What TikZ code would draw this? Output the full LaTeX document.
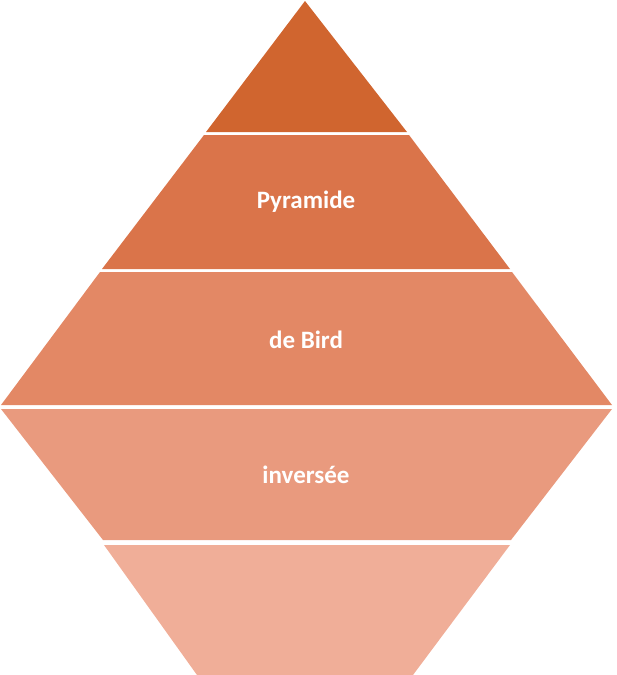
\documentclass[tikz,border=0pt]{standalone}
\usepackage{fontspec}
\setmainfont{Carlito}
\definecolor{c1}{HTML}{D0652F}
\definecolor{c2}{HTML}{DA744A}
\definecolor{c3}{HTML}{E38865}
\definecolor{c4}{HTML}{E99A7E}
\definecolor{c5}{HTML}{F0AE98}
\tikzset{lbl/.style={text=white,font=\fontsize{25}{30}\selectfont\bfseries}}
\begin{document}
\begin{tikzpicture}[x=1pt,y=-1pt]
\useasboundingbox (0,0) rectangle (617,675);
\fill[c1] (305,1) -- (407,132) -- (206,132) -- cycle;
\fill[c2] (204,135) -- (409,135) -- (510,269) -- (102,269) -- cycle;
\fill[c3] (100,272) -- (512,272) -- (612,405) -- (1,405) -- cycle;
\fill[c4] (1,409) -- (612,409) -- (511,540) -- (103,540) -- cycle;
\fill[c5] (104,545) -- (510,545) -- (413,675) -- (197,675) -- cycle;
\node[lbl] (a) at (306,202) {Pyramide};
\node[lbl] (b) at (306,340) {de Bird};
\node[lbl] (c) at (306,475) {inversée};
\end{tikzpicture}
\end{document}
